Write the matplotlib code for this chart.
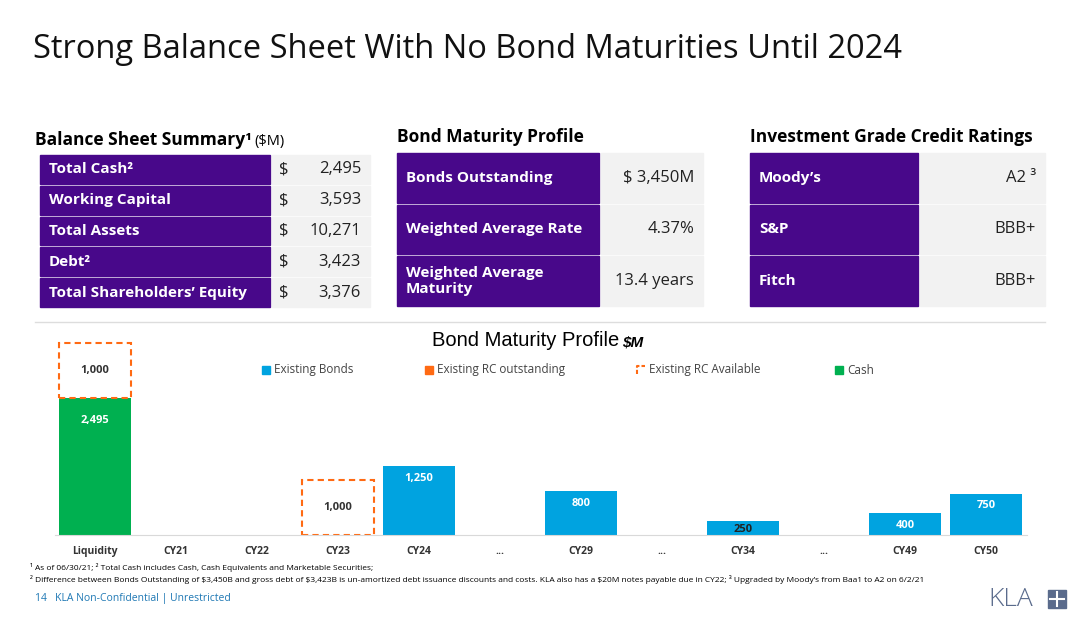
import matplotlib
matplotlib.use('Agg')
import matplotlib.pyplot as plt
from matplotlib.patches import Rectangle

plt.rcParams['font.family'] = ['Open Sans', 'DejaVu Sans']

# chart data
categories = ['Liquidity', 'CY21', 'CY22', 'CY23', 'CY24', '...', 'CY29', '...', 'CY34', '...', 'CY49', 'CY50']
bonds = [0, 0, 0, 0, 1250, 0, 800, 0, 250, 0, 400, 750]
cash = [2495, 0, 0, 0, 0, 0, 0, 0, 0, 0, 0, 0]
rc_available = [1000, 0, 0, 1000, 0, 0, 0, 0, 0, 0, 0, 0]

# tables
bs_labels = ['Total Cash\u00b2', 'Working Capital', 'Total Assets', 'Debt\u00b2', 'Total Shareholders\u2019 Equity']
bs_values = ['2,495', '3,593', '10,271', '3,423', '3,376']
bmp_labels = ['Bonds Outstanding', 'Weighted Average Rate', 'Weighted Average\nMaturity']
bmp_values = ['\\$ 3,450M', '4.37%', '13.4 years']
cr_labels = ["Moody\u2019s", 'S&P', 'Fitch']
cr_values = ['A2 \u00b3', 'BBB+', 'BBB+']

PURPLE = '#48088a'
GRAY = '#f2f2f2'
BLUE = '#00a3e0'
GREEN = '#00b050'
ORANGE = '#ff6a13'

fig = plt.figure(figsize=(10.8, 6.17), dpi=100)
bg = fig.add_axes([0, 0, 1, 1])
bg.set_xlim(0, 1080)
bg.set_ylim(617, 0)
bg.axis('off')

bg.text(33, 50, 'Strong Balance Sheet With No Bond Maturities Until 2024', fontsize=23.5, va='center', color='#111111')

def table(x0, xs, x1, y0, rowh, labels, values, dollar=False):
    for i, (lab, val) in enumerate(zip(labels, values)):
        y = y0 + i * rowh
        bg.add_patch(Rectangle((x0, y), xs - x0, rowh - 2, color=PURPLE))
        bg.add_patch(Rectangle((xs + 2, y), x1 - xs - 2, rowh - 2, color=GRAY))
        bg.text(x0 + 9, y + rowh / 2 - 1, lab, color='white', fontsize=11, fontweight='bold', va='center')
        bg.text(x1 - 9, y + rowh / 2 - 1, val, color='#222222', fontsize=12, va='center', ha='right')
        if dollar:
            bg.text(xs + 9, y + rowh / 2 - 1, '\\$', color='#222222', fontsize=12, va='center')

bg.text(35, 140, 'Balance Sheet Summary\u00b9', fontsize=12.5, fontweight='bold', va='center')
bg.text(254, 141, '(\\$M)', fontsize=10.5, va='center')
table(40, 270, 370, 155, 30.8, bs_labels, bs_values, dollar=True)

bg.text(397, 137, 'Bond Maturity Profile', fontsize=12.5, fontweight='bold', va='center')
table(397, 599, 703, 153, 51.5, bmp_labels, bmp_values)

bg.text(750, 137, 'Investment Grade Credit Ratings', fontsize=12.5, fontweight='bold', va='center')
table(750, 918, 1045, 153, 51.5, cr_labels, cr_values)

bg.plot([35, 1045], [322, 322], color='#dddddd', lw=1)

bg.text(432, 340, 'Bond Maturity Profile', fontsize=14.5, va='center', zorder=5, family='Liberation Sans')
bg.text(622, 342, '\\$M', fontsize=11, fontweight='bold', style='italic', va='center', zorder=5, family='Liberation Sans')

bg.text(30, 567, '\u00b9 As of 06/30/21; \u00b2 Total Cash includes Cash, Cash Equivalents and Marketable Securities;', fontsize=6, va='center')
bg.text(30, 580, '\u00b2 Difference between Bonds Outstanding of \\$3,450B and gross debt of \\$3,423B is un-amortized debt issuance discounts and costs. '
        'KLA also has a \\$20M notes payable due in CY22; \u00b3 Upgraded by Moody\u2019s from Baa1 to A2 on 6/2/21', fontsize=6, va='center')
bg.text(35, 599, '14   KLA Non-Confidential | Unrestricted', fontsize=7.5, color='#1f78b4', va='center')
bg.text(988, 600, 'KLA', fontsize=19, color='#5a6b8c', va='center', fontweight='light')
bg.add_patch(Rectangle((1048, 590), 18, 18, color='#5a6b8c'))
bg.plot([1057, 1057], [592, 606], color='white', lw=1.5)
bg.plot([1050, 1064], [599, 599], color='white', lw=1.5)

# bar chart
ax = fig.add_axes([0.0505, 0.133, 0.9, 0.329])
ax.patch.set_visible(False)
x = list(range(len(categories)))
w = 0.9
ax.bar(x, cash, w, color=GREEN, label='Cash')
ax.bar(x, bonds, w, color=BLUE, label='Existing Bonds')
rc_x = [i for i in x if rc_available[i]]
ax.bar(rc_x, [rc_available[i] for i in rc_x], w, bottom=[cash[i] for i in rc_x],
       facecolor='none', edgecolor=ORANGE, linestyle=(0, (3, 2)), lw=1.5)
for i in x:
    if cash[i]:
        ax.text(i, cash[i] - 400, f'{cash[i]:,}', ha='center', va='center', color='white', fontsize=8, fontweight='bold')
    if bonds[i]:
        ax.text(i, bonds[i] - 220 if bonds[i] > 300 else bonds[i] / 2 - 30, f'{bonds[i]:,}', ha='center', va='center',
                color='white' if bonds[i] > 300 else '#222222', fontsize=8, fontweight='bold')
    if rc_available[i]:
        ax.text(i, cash[i] + rc_available[i] / 2, f'{rc_available[i]:,}', ha='center', va='center', fontsize=8, fontweight='bold', color='#333333')
ax.set_xlim(-0.5, len(categories) - 0.5)
ax.set_ylim(0, 3700)
ax.set_xticks(x)
ax.set_xticklabels(categories, fontsize=7.5, fontweight='bold', color='#333333')
ax.tick_params(length=0, pad=8)
ax.set_yticks([])
for s in ['top', 'right', 'left']:
    ax.spines[s].set_visible(False)
ax.spines['bottom'].set_color('#d9d9d9')

# legend
lx = [262, 425, 637, 835]
ltxt = ['Existing Bonds', 'Existing RC outstanding', 'Existing RC Available', 'Cash']
lcol = [BLUE, ORANGE, None, GREEN]
for px, t, c in zip(lx, ltxt, lcol):
    if c:
        bg.add_patch(Rectangle((px, 366), 8, 8, color=c))
    else:
        bg.plot([px, px, px + 8], [374, 366, 366], color=ORANGE, lw=1.5, linestyle=(0, (2, 1)))
    bg.text(px + 12, 370, t, fontsize=8.5, va='center', color='#444444')

fig.savefig('out.png', dpi=100)
